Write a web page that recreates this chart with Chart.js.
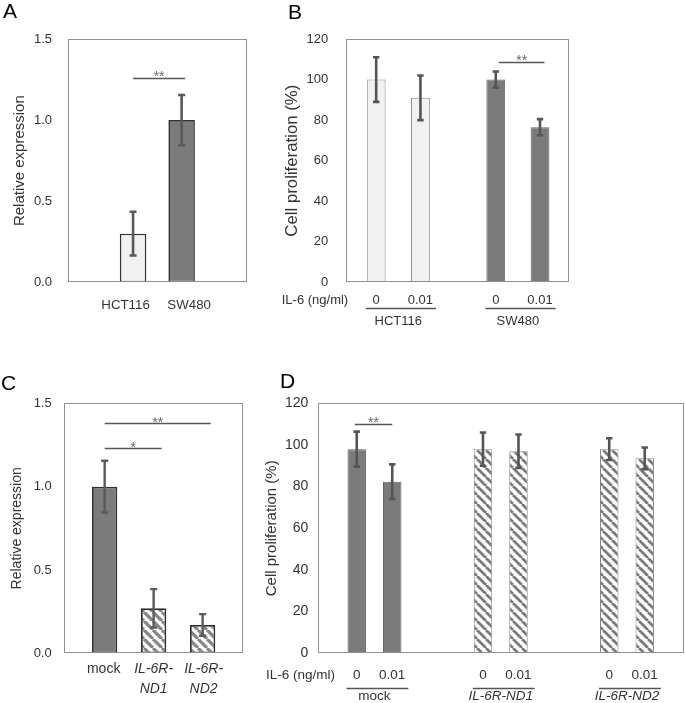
<!DOCTYPE html>
<html><head><meta charset="utf-8">
<script src="https://cdn.jsdelivr.net/npm/chart.js@4/dist/chart.umd.min.js"></script>
<style>
html,body{margin:0;padding:0;background:#fff;}
#wrap{position:relative;width:685px;height:703px;overflow:hidden;background:#fff;}
#wrap canvas{position:absolute;left:0;top:0;}
.lbl{position:absolute;font-family:'Liberation Sans',Arial,sans-serif;font-size:21px;line-height:21px;color:#000;}
</style></head><body>
<div id="wrap">
<canvas id="cA" width="685" height="703"></canvas>
<canvas id="cB" width="685" height="703"></canvas>
<canvas id="cC" width="685" height="703"></canvas>
<canvas id="cD" width="685" height="703"></canvas>
<div class="lbl" style="left:3px;top:0px;">A</div>
<div class="lbl" style="left:288px;top:1px;">B</div>
<div class="lbl" style="left:1px;top:372px;">C</div>
<div class="lbl" style="left:280px;top:370px;">D</div>
</div>
<script>
// ---------- DATA ----------
// Panel A
const catsA = ['HCT116', 'SW480'];
const valsA = [0.30, 1.00];
const errA = [0.135, 0.155];
const sigA = [{ from: [0, 0], to: [0, 1], y: 1.26, text: '**' }];
const ticksA = [0, 0.5, 1.0, 1.5];
// Panel B
const cellLinesB = ['HCT116', 'SW480'];
const dosesB = ['0', '0.01'];
const valsB_0 = [100, 100];
const errB_0 = [11, 4];
const valsB_001 = [91, 76.5];
const errB_001 = [11, 4];
const sigB = [{ from: [0, 1], to: [1, 1], y: 108.8, text: '**' }];
const ticksB = [0, 20, 40, 60, 80, 100, 120];
// Panel C
const catsC = [['mock'], ['IL-6R-', 'ND1'], ['IL-6R-', 'ND2']];
const valsC = [1.00, 0.27, 0.17];
const errC = [0.155, 0.115, 0.065];
const sigC = [
  { from: [0, 0], to: [0, 1], y: 1.232, text: '*' },
  { from: [0, 0], to: [0, 2], y: 1.382, text: '**' }
];
const ticksC = [0, 0.5, 1.0, 1.5];
// Panel D
const linesD = ['mock', 'IL-6R-ND1', 'IL-6R-ND2'];
const dosesD = ['0', '0.01'];
const valsD_0 = [98, 98, 98];
const errD_0 = [8.4, 8, 5.2];
const valsD_001 = [82.4, 97, 93.6];
const errD_001 = [8.3, 8, 5.2];
const sigD = [{ from: [0, 0], to: [1, 0], y: 110.1, text: '**' }];
const ticksD = [0, 20, 40, 60, 80, 100, 120];
const doseTitle = 'IL-6 (ng/ml)';

// ---------- STYLE ----------
const FF = "'Liberation Sans', Arial, Helvetica, sans-serif";
const TEXT = '#333333';
const LIGHT = '#f1f1f1';
const DARK = '#7b7b7b';

function hatch(color, period, lw) {
  const c = document.createElement('canvas');
  c.width = period; c.height = period;
  const g = c.getContext('2d');
  g.fillStyle = '#ffffff'; g.fillRect(0, 0, period, period);
  g.strokeStyle = color; g.lineWidth = lw;
  g.beginPath();
  for (const o of [-period, 0, period]) { g.moveTo(o, 0); g.lineTo(o + period, period); }
  g.stroke();
  return g.createPattern(c, 'repeat');
}
const hatchC = hatch('#858585', 9, 3.2);
const hatchD = hatch('#7a7a7a', 9, 2.8);

function yAxis(o) {
  return {
    min: o.ticks[0], max: o.ticks[o.ticks.length - 1],
    afterBuildTicks: s => { s.ticks = o.ticks.map(v => ({ value: v })); },
    afterFit: s => { s.width = o.width; },
    grid: { display: false, drawTicks: false },
    border: { display: false },
    ticks: { callback: o.fmt, padding: o.tickPad, color: TEXT, font: { family: FF, size: o.tickSize } },
    title: { display: true, text: o.title, color: TEXT, padding: 0, font: { family: FF, size: o.titleSize, lineHeight: 1.2 } }
  };
}
function xAxis(positions, min, max) {
  return {
    type: 'linear', display: false, offset: false, min: min, max: max,
    afterBuildTicks: s => { s.ticks = positions.map(v => ({ value: v })); }
  };
}

function makePanel(id, cfg) {
  const plugin = {
    id: 'deco' + id,
    afterDraw(chart) {
      const ctx = chart.ctx, ca = chart.chartArea, ys = chart.scales.y;
      ctx.save();
      // error bars
      ctx.strokeStyle = cfg.errColor; ctx.lineWidth = cfg.errWidth; ctx.lineCap = 'butt';
      chart.data.datasets.forEach((ds, di) => {
        chart.getDatasetMeta(di).data.forEach((bar, i) => {
          const v = ds.data[i], e = ds.errors[i];
          const yt = ys.getPixelForValue(v + e), yb = ys.getPixelForValue(v - e);
          ctx.beginPath();
          ctx.moveTo(bar.x, yt); ctx.lineTo(bar.x, yb);
          ctx.moveTo(bar.x - cfg.cap, yt); ctx.lineTo(bar.x + cfg.cap, yt);
          ctx.moveTo(bar.x - cfg.cap, yb); ctx.lineTo(bar.x + cfg.cap, yb);
          ctx.stroke();
        });
      });
      // frame
      ctx.strokeStyle = '#8f8f8f'; ctx.lineWidth = 1;
      const l = Math.round(ca.left) + 0.5, t = Math.round(ca.top) + 0.5;
      const r = Math.round(ca.right) - 0.5, b = Math.round(ca.bottom) - 0.5;
      ctx.strokeRect(l, t, r - l, b - t);
      // significance
      cfg.sig.forEach(s => {
        const a = chart.getDatasetMeta(s.from[0]).data[s.from[1]];
        const z = chart.getDatasetMeta(s.to[0]).data[s.to[1]];
        const y = Math.round(ys.getPixelForValue(s.y)) + 0.5;
        const x1 = a.x + cfg.sigExt[0], x2 = z.x + cfg.sigExt[1];
        ctx.strokeStyle = '#555'; ctx.lineWidth = 1.4;
        ctx.beginPath(); ctx.moveTo(x1, y); ctx.lineTo(x2, y); ctx.stroke();
        ctx.fillStyle = '#666'; ctx.font = '14px ' + FF;
        ctx.textAlign = 'center'; ctx.textBaseline = 'alphabetic';
        ctx.fillText(s.text, (x1 + x2) / 2, y + cfg.starDy);
      });
      cfg.drawLabels(ctx, chart);
      ctx.restore();
    }
  };
  return new Chart(document.getElementById(id), {
    type: 'bar',
    data: cfg.data,
    options: {
      responsive: false, animation: false, devicePixelRatio: 1,
      layout: { padding: cfg.padding },
      plugins: { legend: { display: false }, tooltip: { enabled: false } },
      events: [],
      scales: { x: cfg.x, y: cfg.y }
    },
    plugins: [plugin]
  });
}

// simple category labels (A, C)
function simpleLabels(cats, size, dy, lineGap, italicFn, spread) {
  return (ctx, chart) => {
    const ca = chart.chartArea;
    const bars = chart.getDatasetMeta(0).data;
    const mid = bars.reduce((s, b) => s + b.x, 0) / bars.length;
    ctx.fillStyle = TEXT; ctx.textAlign = 'center'; ctx.textBaseline = 'middle';
    bars.forEach((bar, i) => {
      const lines = Array.isArray(cats[i]) ? cats[i] : [cats[i]];
      const it = italicFn(lines.join(''));
      ctx.font = (it ? 'italic ' : '') + size + 'px ' + FF;
      const x = mid + (bar.x - mid) * spread;
      lines.forEach((ln, k) => ctx.fillText(ln, x, ca.bottom + dy + k * lineGap));
    });
  };
}
// grouped labels (B, D)
function groupedLabels(groups, doses, o) {
  return (ctx, chart) => {
    const ca = chart.chartArea;
    ctx.fillStyle = TEXT; ctx.textBaseline = 'middle';
    ctx.font = o.size + 'px ' + FF;
    ctx.textAlign = 'right';
    ctx.fillText(doseTitle, ca.left + o.titleDx, ca.bottom + o.doseDy);
    ctx.textAlign = 'center';
    const m0 = chart.getDatasetMeta(0).data, m1 = chart.getDatasetMeta(1).data;
    groups.forEach((g, i) => {
      ctx.font = o.size + 'px ' + FF;
      ctx.fillStyle = TEXT;
      ctx.fillText(doses[0], m0[i].x, ca.bottom + o.doseDy);
      ctx.fillText(doses[1], m1[i].x, ca.bottom + o.doseDy);
      const x1 = m0[i].x - m0[i].width / 2 - 1;
      const x2 = m1[i].x + ctx.measureText(doses[1]).width / 2 + 3;
      ctx.strokeStyle = '#555'; ctx.lineWidth = 1.5;
      const uy = Math.round(ca.bottom + o.lineDy) + 0.5;
      ctx.beginPath(); ctx.moveTo(x1, uy); ctx.lineTo(x2, uy); ctx.stroke();
      ctx.font = (g === 'mock' || o.upright ? '' : 'italic ') + o.size + 'px ' + FF;
      ctx.fillText(g, (m0[i].x + m1[i].x) / 2, ca.bottom + o.groupDy);
    });
  };
}

// ---------- PANELS ----------
const posA = catsA.map((_, i) => i);
makePanel('cA', {
  padding: { left: 11, top: 39, right: 438.3, bottom: 420.7 },
  data: { labels: posA, datasets: [{ data: valsA, errors: errA,
    backgroundColor: [LIGHT, DARK], borderColor: '#333', borderWidth: 1.6, borderSkipped: false,
    categoryPercentage: 1, barPercentage: 0.546 }] },
  x: xAxis(posA, -1.34, 2.34),
  y: yAxis({ ticks: ticksA, width: 57, tickPad: 16, tickSize: 13, titleSize: 15, title: 'Relative expression', fmt: v => v.toFixed(1) }),
  errColor: '#595959', errWidth: 2.6, cap: 3.5,
  sig: sigA, sigExt: [0, 3.5], starDy: 2,
  drawLabels: simpleLabels(catsA, 13.3, 22.7, 0, () => false, 1.31)
});

const posB = cellLinesB.map((_, i) => i);
makePanel('cB', {
  padding: { left: 281.8, top: 39, right: 115.7, bottom: 420.7 },
  data: { labels: posB, datasets: [
    { label: dosesB[0], data: valsB_0, errors: errB_0, backgroundColor: [LIGHT, DARK], borderColor: ['#8a8a8a', '#666'],
      borderWidth: 1, borderSkipped: false, categoryPercentage: 0.74, barPercentage: 0.425 },
    { label: dosesB[1], data: valsB_001, errors: errB_001, backgroundColor: [LIGHT, DARK], borderColor: ['#8a8a8a', '#666'],
      borderWidth: 1, borderSkipped: false, categoryPercentage: 0.74, barPercentage: 0.425 }
  ] },
  x: xAxis(posB, -0.44, 1.43),
  y: yAxis({ ticks: ticksB, width: 63.9, tickPad: 17.4, tickSize: 13, titleSize: 16.8, title: 'Cell proliferation (%)', fmt: v => String(v) }),
  errColor: '#555', errWidth: 2.6, cap: 3.2,
  sig: sigB, sigExt: [3, 4.5], starDy: 2,
  drawLabels: groupedLabels(cellLinesB, dosesB, { size: 13, titleDx: 2.5, doseDy: 17.7, lineDy: 25.5, groupDy: 39.4, upright: true })
});

const posC = catsC.map((_, i) => i);
makePanel('cC', {
  padding: { left: 8.6, top: 403.3, right: 441.7, bottom: 49.7 },
  data: { labels: posC, datasets: [{ data: valsC, errors: errC,
    backgroundColor: [DARK, hatchC, hatchC], borderColor: '#2e2e2e', borderWidth: 1.8, borderSkipped: false,
    categoryPercentage: 1, barPercentage: 0.516 }] },
  x: xAxis(posC, -0.83, 2.83),
  y: yAxis({ ticks: ticksC, width: 55.4, tickPad: 12.3, tickSize: 13, titleSize: 14, title: 'Relative expression', fmt: v => v.toFixed(1) }),
  errColor: '#5a5a5a', errWidth: 2.4, cap: 3.5,
  sig: sigC, sigExt: [0, 8], starDy: 3,
  drawLabels: simpleLabels(catsC, 14, 15.5, 20, s => s !== 'mock', 1.02)
});

const posD = linesD.map((_, i) => i);
makePanel('cD', {
  padding: { left: 262.7, top: 403.3, right: 0.7, bottom: 49.7 },
  data: { labels: posD, datasets: [
    { label: dosesD[0], data: valsD_0, errors: errD_0, backgroundColor: [DARK, hatchD, hatchD], borderColor: ['#666', '#888', '#888'],
      borderWidth: 1, borderSkipped: false, categoryPercentage: 0.5625, barPercentage: 0.52 },
    { label: dosesD[1], data: valsD_001, errors: errD_001, backgroundColor: [DARK, hatchD, hatchD], borderColor: ['#666', '#888', '#888'],
      borderWidth: 1, borderSkipped: false, categoryPercentage: 0.5625, barPercentage: 0.52 }
  ] },
  x: xAxis(posD, -0.445, 2.454),
  y: yAxis({ ticks: ticksD, width: 55.6, tickPad: 10, tickSize: 14, titleSize: 15, title: 'Cell proliferation (%)', fmt: v => String(v) }),
  errColor: '#555', errWidth: 2.6, cap: 3.2,
  sig: sigD, sigExt: [-2, 0], starDy: 2,
  drawLabels: groupedLabels(linesD, dosesD, { size: 13.5, titleDx: 16.7, doseDy: 22.2, lineDy: 34.4, groupDy: 42.5, upright: false })
});
</script>
</body></html>
